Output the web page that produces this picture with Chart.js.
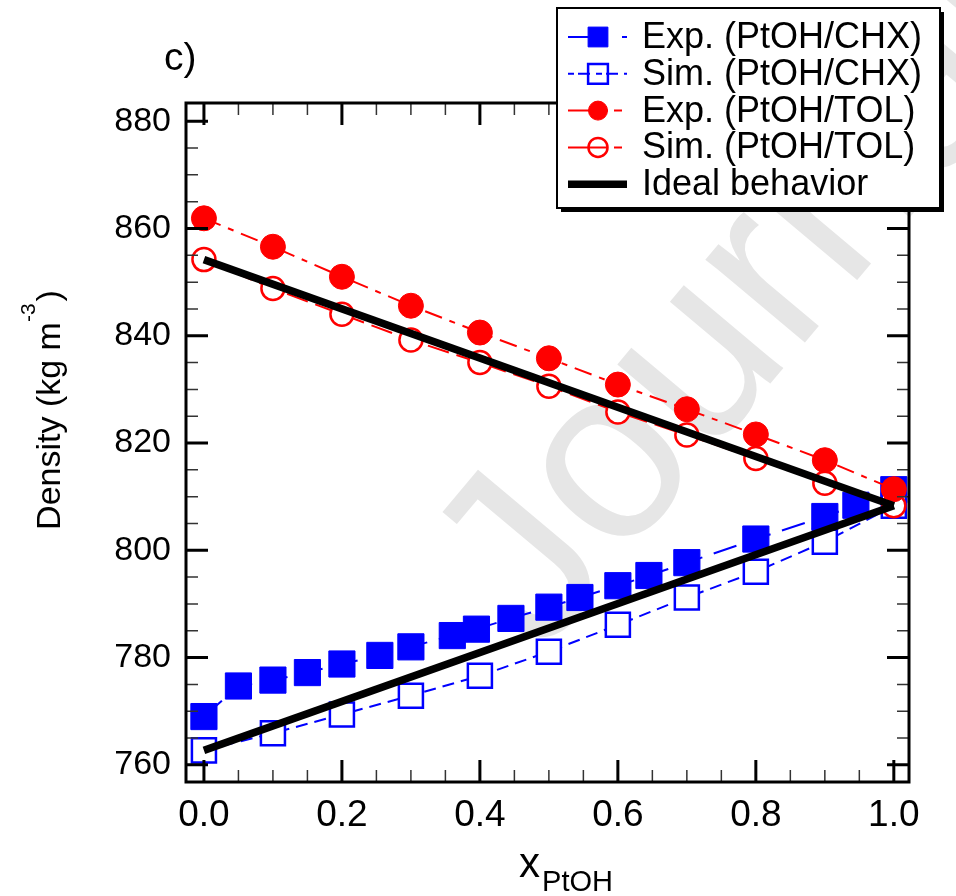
<!DOCTYPE html>
<html>
<head>
<meta charset="utf-8">
<script src="https://cdn.jsdelivr.net/npm/chart.js@4.4.1/dist/chart.umd.min.js"></script>
<style>
  html, body { margin: 0; padding: 0; background: #fff; }
  #wrap { position: relative; width: 956px; height: 896px; }
</style>
</head>
<body>
<div id="wrap"><canvas id="densityChart"></canvas></div>
<script>
// x = mole fraction of PtOH, y = density (kg m-3)
const xExpChx = [0, 0.05, 0.10, 0.15, 0.20, 0.255, 0.30, 0.36, 0.395, 0.445, 0.50, 0.545, 0.60, 0.645, 0.70, 0.80, 0.90, 0.945, 1.00];
const yExpChx = [769.0, 774.7, 775.8, 777.2, 778.8, 780.4, 782.0, 784.1, 785.3, 787.3, 789.4, 791.2, 793.4, 795.3, 797.7, 802.1, 806.3, 808.4, 811.3];

const xSim = [0, 0.1, 0.2, 0.3, 0.4, 0.5, 0.6, 0.7, 0.8, 0.9, 1.0];
const ySimChx = [762.7, 765.9, 769.4, 772.9, 776.6, 781.1, 786.1, 791.2, 796.0, 801.6, 808.3];

const xExpTol = [0, 0.1, 0.2, 0.3, 0.4, 0.5, 0.6, 0.7, 0.8, 0.9, 1.0];
const yExpTol = [861.9, 856.6, 851.0, 845.6, 840.6, 835.8, 830.9, 826.3, 821.6, 816.8, 811.4];
const ySimTol = [854.2, 848.8, 844.0, 839.2, 835.0, 830.6, 825.8, 821.5, 817.1, 812.5, 808.3];

const xIdeal = [0, 1];
const yIdealChx = [762.7, 808.3];
const yIdealTol = [854.2, 808.3];

const xTickValues = [0, 0.2, 0.4, 0.6, 0.8, 1.0];
const xTickLabels = ['0.0', '0.2', '0.4', '0.6', '0.8', '1.0'];
const yTickValues = [760, 780, 800, 820, 840, 860, 880];
const yTickLabels = ['760', '780', '800', '820', '840', '860', '880'];

const FONT = "'Liberation Sans', Arial, Helvetica, sans-serif";
const BLUE = '#0000ff';
const RED = '#ff0000';

const pts = (xs, ys) => xs.map((x, i) => ({ x: x, y: ys[i] }));

// split each major interval into 4 for the minor ticks
function minorOf(major) {
    const out = [];
    for (let i = 0; i < major.length - 1; i++) {
        const step = (major[i + 1] - major[i]) / 4;
        for (let k = 1; k < 4; k++) out.push(major[i] + k * step);
    }
    return out;
}

// faint "Journal Pre-proof" stamp behind everything
const watermark = {
    id: 'watermark',
    beforeDatasetsDraw(chart) {
        const { ctx } = chart;
        ctx.save();
        ctx.translate(540, 658);
        ctx.rotate(-50 * Math.PI / 180);
        ctx.fillStyle = '#e6e6e6';
        ctx.font = `245px ${FONT}`;
        ctx.textBaseline = 'alphabetic';
        ctx.fillText('Journal Pre-proof', 0, 0);
        ctx.restore();
    }
};

// frame with inward ticks on all four sides
const frameTicks = {
    id: 'frameTicks',
    afterDatasetsDraw(chart) {
        const { ctx, chartArea: a, scales: { x, y } } = chart;
        ctx.save();
        ctx.lineCap = 'butt';

        const tickX = (vals, len, w, col) => {
            ctx.strokeStyle = col;
            ctx.lineWidth = w;
            ctx.beginPath();
            vals.forEach(v => {
                const px = x.getPixelForValue(v);
                ctx.moveTo(px, a.bottom); ctx.lineTo(px, a.bottom - len);
                ctx.moveTo(px, a.top); ctx.lineTo(px, a.top + len);
            });
            ctx.stroke();
        };
        const tickY = (vals, len, w, col) => {
            ctx.strokeStyle = col;
            ctx.lineWidth = w;
            ctx.beginPath();
            vals.forEach(v => {
                const py = y.getPixelForValue(v);
                ctx.moveTo(a.left, py); ctx.lineTo(a.left + len, py);
                ctx.moveTo(a.right, py); ctx.lineTo(a.right - len, py);
            });
            ctx.stroke();
        };
        tickX(minorOf(xTickValues), 12, 1.5, '#333');
        tickY(minorOf(yTickValues), 12, 1.5, '#333');
        tickX(xTickValues, 22, 3, '#000');
        tickY(yTickValues, 22, 3, '#000');

        ctx.strokeStyle = '#000';
        ctx.lineWidth = 3;
        ctx.strokeRect(a.left, a.top, a.right - a.left, a.bottom - a.top);
        ctx.restore();
    }
};

// panel letter, axis titles and the boxed legend
const decorations = {
    id: 'decorations',
    afterDraw(chart) {
        const { ctx } = chart;
        ctx.save();
        ctx.fillStyle = '#000';
        ctx.textBaseline = 'alphabetic';

        ctx.font = `39px ${FONT}`;
        ctx.textAlign = 'left';
        ctx.fillText('c)', 164, 70);

        // y title, rotated, with superscript
        ctx.save();
        ctx.translate(60, 410);
        ctx.rotate(-Math.PI / 2);
        const main = 'Density (kg m', sup = '-3', close = ')';
        ctx.font = `34px ${FONT}`;
        const w1 = ctx.measureText(main).width, w3 = ctx.measureText(close).width;
        ctx.font = `21px ${FONT}`;
        const w2 = ctx.measureText(sup).width;
        let sx = -(w1 + w2 + w3 + 2) / 2;
        ctx.font = `34px ${FONT}`;
        ctx.fillText(main, sx, 0);
        sx += w1;
        ctx.font = `21px ${FONT}`;
        ctx.fillText(sup, sx, -25);
        sx += w2 + 2;
        ctx.font = `34px ${FONT}`;
        ctx.fillText(close, sx, 0);
        ctx.restore();

        // x title with subscript
        ctx.font = `42px ${FONT}`;
        const wx = ctx.measureText('x').width;
        ctx.font = `29px ${FONT}`;
        const ws = ctx.measureText('PtOH').width;
        let tx = 565 - (wx + ws) / 2;
        ctx.font = `42px ${FONT}`;
        ctx.fillText('x', tx, 877);
        ctx.font = `29px ${FONT}`;
        ctx.fillText('PtOH', tx + wx + 2, 891);

        // legend box
        const bx = 557, by = 8, bw = 383, bh = 200;
        ctx.fillStyle = '#000';
        ctx.fillRect(bx + 4, by + 4, bw, bh);
        ctx.fillStyle = '#fff';
        ctx.fillRect(bx, by, bw, bh);
        ctx.strokeStyle = '#000';
        ctx.lineWidth = 2;
        ctx.strokeRect(bx, by, bw, bh);

        const items = chart.data.datasets.filter(d => d.legendText);
        items.forEach((d, i) => {
            const ry = 37 + i * 36.8;
            ctx.save();
            ctx.strokeStyle = d.borderColor;
            ctx.lineWidth = d.borderWidth;
            ctx.setLineDash(d.legendDash || []);
            ctx.beginPath();
            ctx.moveTo(568, ry); ctx.lineTo(627, ry);
            ctx.stroke();
            ctx.setLineDash([]);
            if (d.pointRadius > 0) {
                ctx.fillStyle = d.pointBackgroundColor === '#fff' ? 'rgba(0,0,0,0)' : d.pointBackgroundColor;
                ctx.strokeStyle = d.pointBorderColor;
                ctx.lineWidth = d.pointBorderWidth;
                Chart.helpers.drawPoint(ctx, {
                    pointStyle: d.pointStyle,
                    radius: d.pointStyle === 'rect' ? 14 : 9.5,
                    borderWidth: d.pointBorderWidth,
                    rotation: 0
                }, 598, ry);
            }
            ctx.restore();
            ctx.fillStyle = '#000';
            ctx.font = `36px ${FONT}`;
            ctx.textBaseline = 'middle';
            ctx.fillText(d.legendText, 642, ry + 1);
        });
        ctx.restore();
    }
};

const ctx = document.getElementById('densityChart').getContext('2d');

new Chart(ctx, {
    type: 'scatter',
    plugins: [watermark, frameTicks, decorations],
    data: {
        datasets: [
            {
                legendText: 'Exp. (PtOH/CHX)',
                data: pts(xExpChx, yExpChx),
                showLine: true,
                order: 4,
                borderColor: BLUE,
                borderWidth: 2,
                borderDash: [24, 12],
                legendDash: [30, 24, 6, 60],
                pointStyle: 'rect',
                pointRadius: 18.5,
                pointBackgroundColor: BLUE,
                pointBorderColor: BLUE,
                pointBorderWidth: 1
            },
            {
                legendText: 'Sim. (PtOH/CHX)',
                data: pts(xSim, ySimChx),
                showLine: true,
                order: 3,
                borderColor: BLUE,
                borderWidth: 2,
                borderDash: [12, 7],
                legendDash: [6, 4, 12, 6],
                pointStyle: 'rect',
                pointRadius: 17,
                pointBackgroundColor: '#fff',
                pointBorderColor: BLUE,
                pointBorderWidth: 2.5
            },
            {
                legendText: 'Exp. (PtOH/TOL)',
                data: pts(xExpTol, yExpTol),
                showLine: true,
                order: 1,
                borderColor: RED,
                borderWidth: 2,
                borderDash: [18, 8, 6, 8],
                legendDash: [40, 6, 8, 6],
                pointStyle: 'circle',
                pointRadius: 12.5,
                pointBackgroundColor: RED,
                pointBorderColor: RED,
                pointBorderWidth: 1
            },
            {
                legendText: 'Sim. (PtOH/TOL)',
                data: pts(xSim, ySimTol),
                showLine: true,
                order: 2,
                borderColor: RED,
                borderWidth: 2,
                borderDash: [22, 8],
                legendDash: [40, 6, 8, 6],
                pointStyle: 'circle',
                pointRadius: 11.5,
                pointBackgroundColor: '#fff',
                pointBorderColor: RED,
                pointBorderWidth: 2.5
            },
            {
                legendText: 'Ideal behavior',
                data: pts(xIdeal, yIdealChx),
                showLine: true,
                order: 0,
                borderColor: '#000',
                borderWidth: 7.5,
                pointRadius: 0
            },
            {
                data: pts(xIdeal, yIdealTol),
                showLine: true,
                order: 0,
                borderColor: '#000',
                borderWidth: 7.5,
                pointRadius: 0
            }
        ]
    },
    options: {
        responsive: true,
        maintainAspectRatio: false,
        animation: false,
        layout: { padding: { top: 103, right: 47, left: 0, bottom: 0 } },
        plugins: {
            legend: { display: false },
            tooltip: { enabled: false }
        },
        scales: {
            x: {
                type: 'linear',
                min: -0.026,
                max: 1.022,
                grid: { display: false, drawTicks: false },
                border: { display: false },
                afterBuildTicks: s => { s.ticks = xTickValues.map(v => ({ value: v })); },
                afterFit: s => { s.height = 114; },
                ticks: {
                    padding: 12,
                    color: '#000',
                    maxRotation: 0,
                    autoSkip: false,
                    font: { family: FONT, size: 37 },
                    callback: (v, i) => xTickLabels[i]
                }
            },
            y: {
                min: 756.8,
                max: 883.4,
                grid: { display: false, drawTicks: false },
                border: { display: false },
                afterBuildTicks: s => { s.ticks = yTickValues.map(v => ({ value: v })); },
                afterFit: s => { s.width = 186; },
                ticks: {
                    padding: 15,
                    color: '#000',
                    autoSkip: false,
                    font: { family: FONT, size: 34 },
                    callback: (v, i) => yTickLabels[i]
                }
            }
        }
    }
});
</script>
</body>
</html>
